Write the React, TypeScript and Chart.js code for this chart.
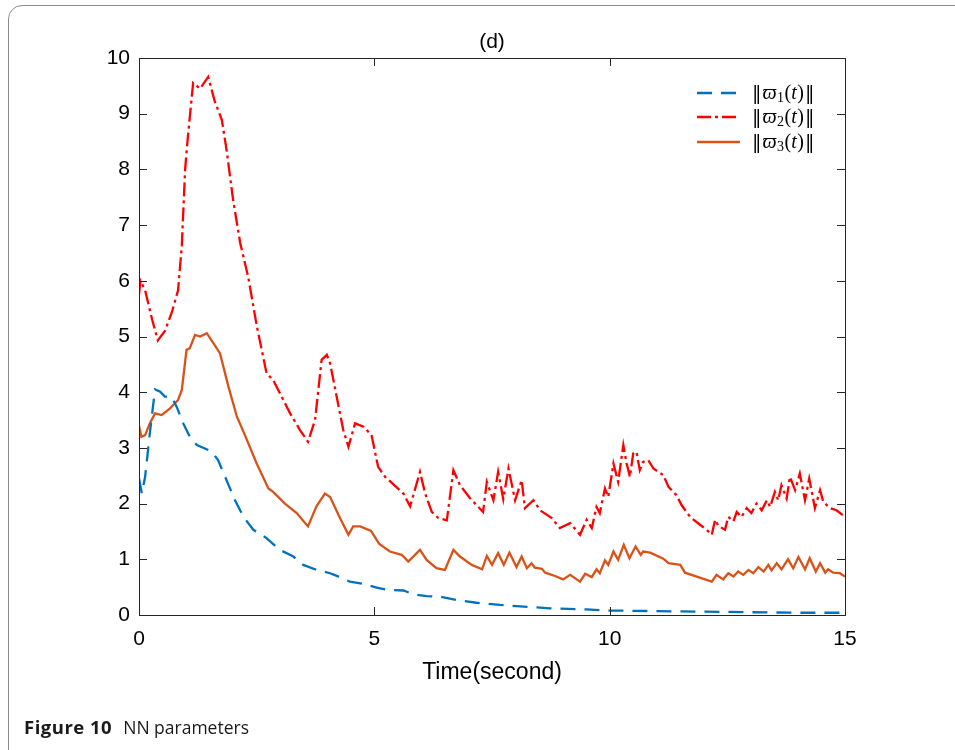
import React, { useEffect, useRef } from "react";
import { Chart, registerables } from "chart.js";

Chart.register(...registerables);

// ---- data ----
const blueT = [0, 0.06, 0.13, 0.23, 0.34, 0.45, 0.55, 0.69, 0.8, 0.94, 1.08, 1.23, 1.4, 1.55, 1.68, 1.86, 2.04, 2.22, 2.43, 2.71, 2.99, 3.28, 3.49, 3.77, 4.06, 4.24, 4.48, 4.77, 5.05, 5.3, 5.62, 5.83, 6.11, 6.4, 6.75, 7.17, 7.67, 8.38, 8.73, 9.5, 10, 11, 12, 13, 14, 15];
const blueV = [2.45, 2.18, 2.48, 3.26, 4.05, 4.01, 3.92, 3.92, 3.74, 3.44, 3.2, 3.05, 2.99, 2.93, 2.78, 2.42, 2.06, 1.76, 1.53, 1.38, 1.17, 1.05, 0.9, 0.81, 0.75, 0.69, 0.6, 0.56, 0.49, 0.45, 0.44, 0.37, 0.34, 0.33, 0.27, 0.22, 0.18, 0.14, 0.12, 0.1, 0.08, 0.07, 0.06, 0.05, 0.04, 0.04];

const redT = [0, 0.03, 0.13, 0.28, 0.4, 0.55, 0.7, 0.83, 0.91, 0.98, 1.04, 1.15, 1.3, 1.47, 1.61, 1.76, 1.86, 2.0, 2.15, 2.32, 2.5, 2.71, 2.85, 3.21, 3.42, 3.59, 3.74, 3.88, 3.99, 4.06, 4.2, 4.34, 4.45, 4.59, 4.77, 4.94, 5.08, 5.23, 5.4, 5.62, 5.76, 5.97, 6.08, 6.22, 6.36, 6.54, 6.68, 6.82, 7.03, 7.31, 7.39, 7.53, 7.63, 7.74, 7.85, 7.99, 8.13, 8.2, 8.38, 8.52, 8.77, 8.94, 9.16, 9.37, 9.51, 9.62, 9.72, 9.79, 9.9, 9.97, 10.08, 10.18, 10.29, 10.36, 10.43, 10.5, 10.57, 10.64, 10.71, 10.82, 10.93, 11.14, 11.25, 11.42, 11.53, 11.71, 11.92, 12.06, 12.17, 12.24, 12.31, 12.45, 12.52, 12.63, 12.7, 12.8, 12.91, 13.01, 13.12, 13.23, 13.34, 13.41, 13.51, 13.58, 13.65, 13.76, 13.83, 13.94, 14.04, 14.15, 14.24, 14.36, 14.47, 14.54, 14.68, 14.82, 15];
const redV = [5.75, 6.0, 5.83, 5.3, 4.93, 5.1, 5.44, 5.83, 6.64, 8.0, 8.6, 9.55, 9.45, 9.66, 9.22, 8.89, 8.35, 7.45, 6.68, 6.07, 5.2, 4.34, 4.22, 3.62, 3.32, 3.11, 3.5, 4.58, 4.67, 4.52, 3.92, 3.32, 3.02, 3.44, 3.38, 3.23, 2.66, 2.48, 2.35, 2.18, 1.95, 2.57, 2.18, 1.85, 1.74, 1.7, 2.6, 2.33, 2.1, 1.85, 2.39, 2.06, 2.57, 2.08, 2.63, 2.06, 2.42, 1.92, 2.06, 1.88, 1.74, 1.56, 1.65, 1.44, 1.71, 1.56, 1.94, 1.83, 2.27, 2.12, 2.72, 2.39, 3.05, 2.72, 2.48, 2.9, 2.93, 2.6, 2.75, 2.78, 2.63, 2.51, 2.3, 2.15, 1.97, 1.76, 1.62, 1.53, 1.44, 1.71, 1.6, 1.53, 1.76, 1.68, 1.85, 1.76, 1.92, 1.83, 2.0, 1.88, 2.06, 1.94, 2.21, 2.06, 2.33, 2.09, 2.48, 2.24, 2.54, 2.06, 2.45, 1.92, 2.24, 2.03, 1.92, 1.88, 1.76];

const orangeT = [0, 0.05, 0.13, 0.23, 0.34, 0.48, 0.66, 0.83, 0.91, 1.01, 1.08, 1.19, 1.3, 1.44, 1.58, 1.72, 1.9, 2.08, 2.25, 2.5, 2.75, 2.85, 3.1, 3.35, 3.59, 3.77, 3.95, 4.06, 4.27, 4.45, 4.55, 4.7, 4.93, 5.1, 5.33, 5.58, 5.62, 5.72, 5.97, 6.11, 6.32, 6.5, 6.68, 6.82, 7.07, 7.29, 7.39, 7.5, 7.63, 7.75, 7.87, 8.02, 8.13, 8.24, 8.34, 8.41, 8.56, 8.63, 8.84, 9.01, 9.16, 9.37, 9.48, 9.62, 9.72, 9.79, 9.9, 9.97, 10.08, 10.18, 10.3, 10.42, 10.55, 10.66, 10.71, 10.86, 11.14, 11.25, 11.5, 11.6, 11.85, 12.17, 12.27, 12.41, 12.52, 12.63, 12.73, 12.84, 12.95, 13.05, 13.16, 13.27, 13.37, 13.44, 13.55, 13.65, 13.79, 13.9, 14.01, 14.15, 14.25, 14.38, 14.47, 14.58, 14.64, 14.75, 14.89, 15];
const orangeV = [3.4, 3.2, 3.23, 3.44, 3.62, 3.59, 3.71, 3.86, 4.04, 4.76, 4.79, 5.03, 5.0, 5.06, 4.88, 4.7, 4.1, 3.56, 3.23, 2.72, 2.27, 2.21, 2.0, 1.83, 1.59, 1.95, 2.18, 2.12, 1.74, 1.44, 1.59, 1.59, 1.51, 1.28, 1.14, 1.08, 1.05, 0.96, 1.17, 0.99, 0.84, 0.81, 1.17, 1.05, 0.9, 0.82, 1.06, 0.9, 1.11, 0.9, 1.12, 0.86, 1.05, 0.84, 0.93, 0.85, 0.83, 0.76, 0.7, 0.64, 0.72, 0.6, 0.74, 0.68, 0.82, 0.75, 0.98, 0.9, 1.14, 0.99, 1.26, 1.02, 1.23, 1.08, 1.14, 1.12, 1.01, 0.93, 0.9, 0.76, 0.69, 0.6, 0.72, 0.64, 0.75, 0.69, 0.78, 0.72, 0.81, 0.75, 0.86, 0.78, 0.9, 0.8, 0.93, 0.82, 1.0, 0.84, 1.04, 0.82, 1.02, 0.78, 0.93, 0.76, 0.82, 0.76, 0.75, 0.69];

const xTicks = [0, 5, 10, 15];
const yTicks = [0, 1, 2, 3, 4, 5, 6, 7, 8, 9, 10];
const seriesSubs = ["1", "2", "3"];
const titleText = "(d)";
const xTitle = "Time(second)";

const BLUE = "#0072BD";
const RED = "#FF0000";
const ORANGE = "#D95319";
const AX = "#262626";
const LW = 2.3;

const toPts = (t: number[], v: number[]) => t.map((x, i) => ({ x, y: v[i] }));

const decorPlugin = {
  id: "decor",
  afterDraw(chart: any) {
    const { ctx, chartArea: a, scales } = chart;
    const xs = scales.x;
    const ys = scales.y;
    ctx.save();
    ctx.strokeStyle = AX;
    ctx.lineWidth = 1;
    ctx.setLineDash([]);
    ctx.strokeRect(Math.round(a.left) + 0.5, Math.round(a.top) + 0.5, Math.round(a.right - a.left), Math.round(a.bottom - a.top));
    const L = 8;
    const line = (x1: number, y1: number, x2: number, y2: number) => {
      ctx.beginPath();
      ctx.moveTo(x1, y1);
      ctx.lineTo(x2, y2);
      ctx.stroke();
    };
    yTicks.forEach((v) => {
      const p = Math.round(ys.getPixelForValue(v)) + 0.5;
      line(a.left, p, a.left + L, p);
      line(a.right, p, a.right - L, p);
    });
    xTicks.forEach((v) => {
      const p = Math.round(xs.getPixelForValue(v)) + 0.5;
      line(p, a.bottom, p, a.bottom - L);
      line(p, a.top, p, a.top + L);
    });
    // title
    ctx.fillStyle = "#000";
    ctx.font = '21px "Liberation Sans", Arial, sans-serif';
    ctx.textAlign = "center";
    ctx.textBaseline = "middle";
    ctx.fillText(titleText, (a.left + a.right) / 2, 42);

    // legend
    const colors = [BLUE, RED, ORANGE];
    const dashes = [[15, 9], [14, 4, 3, 4], []];
    const rowY = [93, 117, 142];
    const fam = '"Liberation Serif", "DejaVu Serif", serif';
    const bar = '"DejaVu Serif", serif';
    for (let i = 0; i < 3; i++) {
      ctx.strokeStyle = colors[i];
      ctx.lineWidth = LW;
      ctx.setLineDash(dashes[i]);
      line(697, rowY[i], 740, rowY[i]);
      ctx.setLineDash([]);
      ctx.fillStyle = "#000";
      ctx.textAlign = "left";
      ctx.textBaseline = "alphabetic";
      const base = rowY[i] + 6;
      let x = 752;
      const parts: [string, string, number, number][] = [
        ["\u2016", `19px ${bar}`, 0, 1],
        ["\u03D6", `italic 20px ${fam}`, 0, 0.5],
        [seriesSubs[i], `14px ${fam}`, 3, 0.5],
        ["(", `20px ${fam}`, 0, 0],
        ["t", `italic 20px ${fam}`, 0, 0.5],
        [")", `20px ${fam}`, 0, 1],
        ["\u2016", `19px ${bar}`, 0, 0],
      ];
      parts.forEach(([s, f, dy, extra]) => {
        ctx.font = f;
        ctx.fillText(s, x, base + dy);
        x += ctx.measureText(s).width + extra;
      });
    }
    ctx.restore();
  },
};

export default function App() {
  const ref = useRef<HTMLCanvasElement | null>(null);
  useEffect(() => {
    if (!ref.current) return;
    const chart = new Chart(ref.current, {
      type: "line",
      data: {
        datasets: [
          { label: "w1", data: toPts(blueT, blueV), borderColor: BLUE, borderWidth: LW, borderDash: [15, 9], pointRadius: 0, tension: 0, fill: false },
          { label: "w2", data: toPts(redT, redV), borderColor: RED, borderWidth: LW, borderDash: [14, 4, 3, 4], pointRadius: 0, tension: 0, fill: false },
          { label: "w3", data: toPts(orangeT, orangeV), borderColor: ORANGE, borderWidth: LW, pointRadius: 0, tension: 0, fill: false },
        ],
      },
      options: {
        responsive: false,
        maintainAspectRatio: false,
        animation: false,
        events: [],
        layout: { padding: { left: 60, right: 110, top: 58, bottom: 64 } },
        plugins: { legend: { display: false }, tooltip: { enabled: false }, title: { display: false } },
        scales: {
          x: {
            type: "linear",
            min: 0,
            max: 15,
            afterBuildTicks: (s: any) => { s.ticks = xTicks.map((v) => ({ value: v })); },
            afterFit: (s: any) => { s.height = 71; },
            grid: { display: true, drawOnChartArea: false, drawTicks: false },
            border: { display: false },
            ticks: { color: "#000", font: { family: '"Liberation Sans", Arial, sans-serif', size: 21 }, padding: 12, maxRotation: 0 },
            title: { display: true, text: xTitle, color: "#000", font: { family: '"Liberation Sans", Arial, sans-serif', size: 23 }, padding: 0 },
          },
          y: {
            type: "linear",
            min: 0,
            max: 10,
            afterBuildTicks: (s: any) => { s.ticks = yTicks.map((v) => ({ value: v })); },
            afterFit: (s: any) => { s.width = 79; },
            grid: { display: true, drawOnChartArea: false, drawTicks: false },
            border: { display: false },
            ticks: { color: "#000", font: { family: '"Liberation Sans", Arial, sans-serif', size: 21 }, padding: 9 },
          },
        },
      },
      plugins: [decorPlugin],
    } as any);
    return () => chart.destroy();
  }, []);

  return (
    <div style={{ position: "fixed", left: 0, top: 0, width: 955, height: 750, overflow: "hidden", background: "#fff" }}>
      <div
        style={{
          position: "absolute",
          left: 8,
          top: 5,
          width: 1100,
          height: 760,
          border: "1.5px solid #8c8c8c",
          borderRadius: 14,
          boxSizing: "border-box",
        }}
      />
      <canvas ref={ref} width={955} height={750} style={{ position: "absolute", left: 0, top: 0, display: "block" }} />
      <div
        style={{
          position: "absolute",
          left: 24,
          top: 717,
          fontFamily: '"Open Sans", sans-serif',
          fontSize: 17.5,
          lineHeight: "20px",
          color: "#1a1a1a",
          whiteSpace: "nowrap",
        }}
      >
        <b style={{ fontSize: 18.5, letterSpacing: 0.5 }}>Figure 10</b>
        <span style={{ marginLeft: 11 }}>NN parameters</span>
      </div>
    </div>
  );
}
